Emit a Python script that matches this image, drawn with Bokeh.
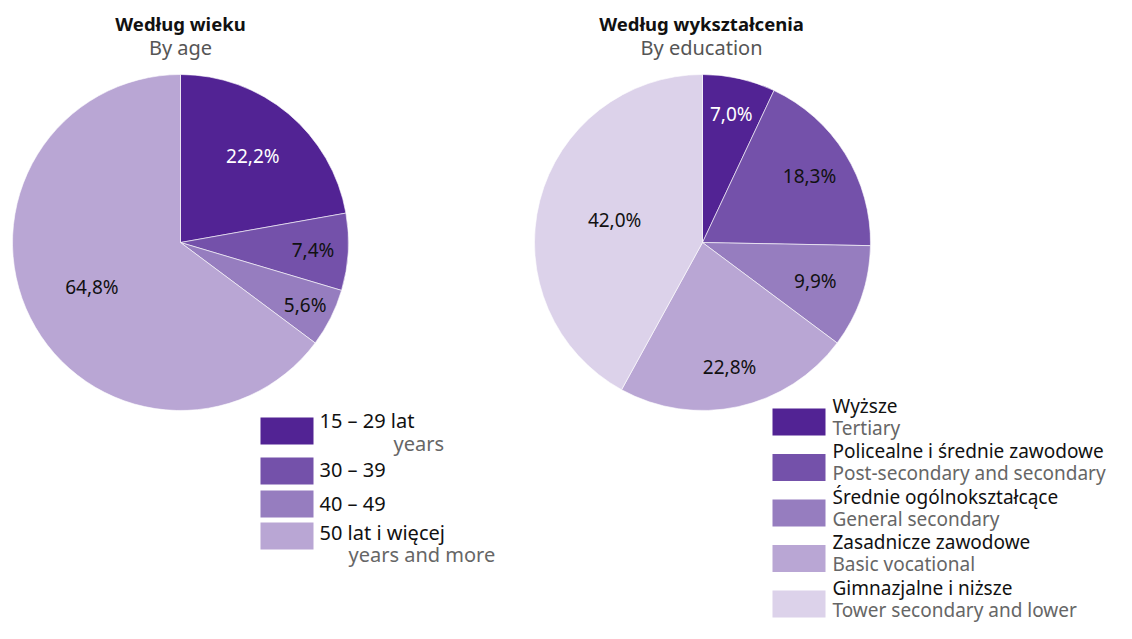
import math
from bokeh.plotting import figure
from bokeh.models import Range1d, ColumnDataSource
from bokeh.core.properties import value
from bokeh.embed import file_html
from bokeh.resources import INLINE

# ---- data ----
age_labels_pl = ["15 – 29 lat", "30 – 39", "40 – 49", "50 lat i więcej"]
age_labels_en = ["years", "", "", "years and more"]
age_values = [22.2, 7.4, 5.6, 64.8]

edu_labels_pl = ["Wyższe", "Policealne i średnie zawodowe", "Średnie ogólnokształcące",
                 "Zasadnicze zawodowe", "Gimnazjalne i niższe"]
edu_labels_en = ["Tertiary", "Post-secondary and secondary", "General secondary",
                 "Basic vocational", "Tower secondary and lower"]
edu_values = [7.0, 18.3, 9.9, 22.8, 42.0]

# ---- style ----
colors = ["#522394", "#7451AA", "#967DBF", "#B9A6D4", "#DCD2EA"]
age_label_colors = ["white", "#111111", "#111111", "#111111"]
edu_label_colors = ["white", "#111111", "#111111", "#111111", "#111111"]
age_label_r = [0.67, 0.79, 0.83, 0.59]
edu_label_r = [0.785, 0.75, 0.71, 0.76, 0.54]
FONT = "Noto Sans"
W, H = 1116, 623

p = figure(width=W, height=H, output_backend="svg", toolbar_location=None,
           x_range=Range1d(0, W), y_range=Range1d(0, H), min_border=0)
p.axis.visible = False
p.grid.visible = False
p.outline_line_color = None


def Y(y):
    return H - y


def pie(cx, cy, r, vals, label_r, label_colors):
    total = sum(vals)
    starts, ends, lx, ly, txt = [], [], [], [], []
    cum = 0.0
    for v, fr in zip(vals, label_r):
        a0 = math.pi / 2 - 2 * math.pi * cum / total
        a1 = math.pi / 2 - 2 * math.pi * (cum + v) / total
        starts.append(a1)
        ends.append(a0)
        mid = (a0 + a1) / 2
        lx.append(cx + fr * r * math.cos(mid))
        ly.append(Y(cy) + fr * r * math.sin(mid))
        txt.append(f"{v:.1f}".replace(".", ",") + "%")
        cum += v
    src = ColumnDataSource(dict(s=starts, e=ends, c=colors[:len(vals)]))
    p.wedge(x=cx, y=Y(cy), radius=r, start_angle="s", end_angle="e",
            fill_color="c", line_color="white", line_width=0.6, source=src)
    lsrc = ColumnDataSource(dict(x=lx, y=ly, t=txt, c=label_colors))
    p.text(x="x", y="y", text="t", text_color="c", source=lsrc,
           text_font=value(FONT), text_font_size="19px",
           text_align="center", text_baseline="middle")


pie(180, 242, 168, age_values, age_label_r, age_label_colors)
pie(702, 242, 168, edu_values, edu_label_r, edu_label_colors)

# titles
for cx, t1, t2 in [(180, "Według wieku", "By age"), (701, "Według wykształcenia", "By education")]:
    p.text(x=[cx], y=[Y(23)], text=[t1], text_font=value(FONT), text_font_style="bold",
           text_font_size="18.5px", text_color="#111111", text_align="center", text_baseline="middle")
    p.text(x=[cx], y=[Y(47)], text=[t2], text_font=value(FONT),
           text_font_size="20px", text_color="#555555", text_align="center", text_baseline="middle")

# left legend
box_tops = [417, 457, 490, 522]
line1_off = [2.5, 12, 12.5, 10]
line2_off = [26, 0, 0, 32]
en_x = [393, 0, 0, 348]
for i, top in enumerate(box_tops):
    p.quad(left=260, right=313, top=Y(top), bottom=Y(top + 27), fill_color=colors[i], line_color=None)
    p.text(x=[319], y=[Y(top + line1_off[i])], text=[age_labels_pl[i]], text_font=value(FONT),
           text_font_size="20px", text_color="#111111", text_align="left", text_baseline="middle")
    if age_labels_en[i]:
        p.text(x=[en_x[i]], y=[Y(top + line2_off[i])], text=[age_labels_en[i]], text_font=value(FONT),
               text_font_size="20px", text_color="#666666", text_align="left", text_baseline="middle")

# right legend
for i in range(len(edu_values)):
    top = 408 + 45.5 * i
    p.quad(left=772, right=825, top=Y(top), bottom=Y(top + 27), fill_color=colors[i], line_color=None)
    p.text(x=[832], y=[Y(top - 3)], text=[edu_labels_pl[i]], text_font=value(FONT),
           text_font_size="19px", text_color="#111111", text_align="left", text_baseline="middle")
    p.text(x=[832], y=[Y(top + 19)], text=[edu_labels_en[i]], text_font=value(FONT),
           text_font_size="19px", text_color="#666666", text_align="left", text_baseline="middle")

open("out.html", "w").write(file_html(p, INLINE))
